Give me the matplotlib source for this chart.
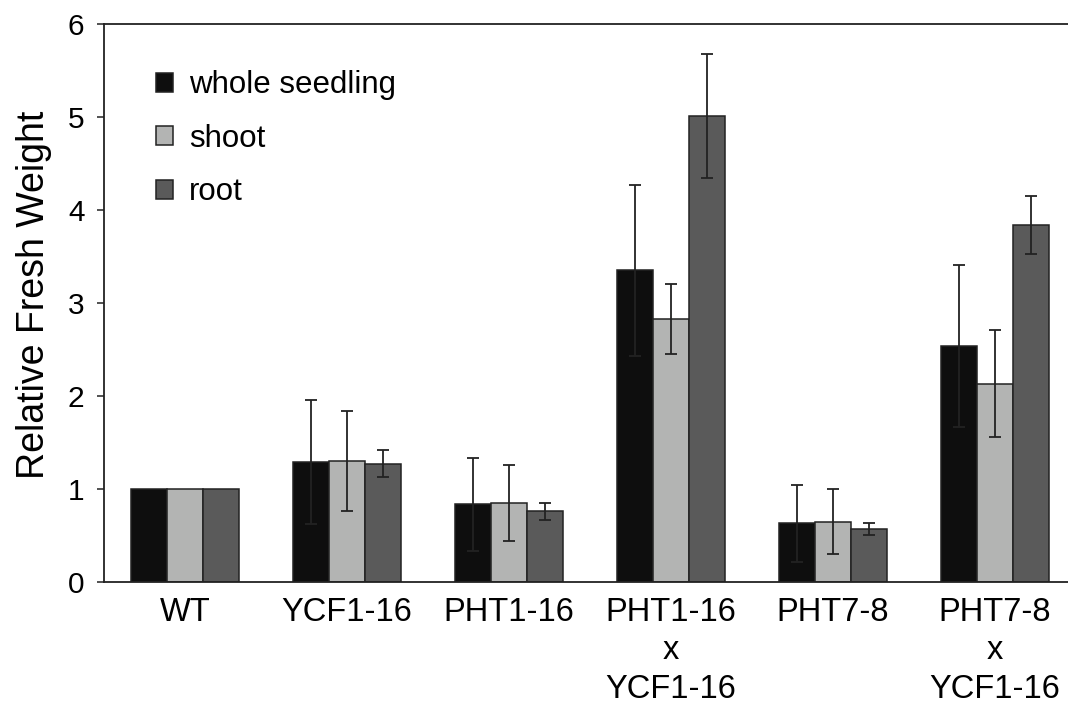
import numpy as np
import matplotlib
matplotlib.use('Agg')
import matplotlib.pyplot as plt

plt.rcParams['font.family'] = ['Liberation Sans', 'DejaVu Sans']

GROUPS = ['WT', 'YCF1-16', 'PHT1-16', 'PHT1-16\nx\nYCF1-16', 'PHT7-8',
          'PHT7-8\nx\nYCF1-16']
SERIES = ['whole seedling', 'shoot', 'root']

whole = [1.00, 1.29, 0.835, 3.35, 0.63, 2.54]
whole_err = [0.0, 0.67, 0.50, 0.92, 0.41, 0.87]
shoot = [1.00, 1.30, 0.85, 2.83, 0.65, 2.13]
shoot_err = [0.0, 0.54, 0.41, 0.375, 0.345, 0.575]
root = [1.00, 1.27, 0.76, 5.01, 0.57, 3.84]
root_err = [0.0, 0.145, 0.09, 0.67, 0.065, 0.315]

colors = ['#0e0e0e', '#b3b4b3', '#5a5a5a']
edge = '#222222'

fig = plt.figure(figsize=(10.68, 7.05), dpi=100)
ax = fig.add_axes([0.0974, 0.1745, 0.9026, 0.7915])

x = np.arange(len(GROUPS))
w = 0.222
handles = []
for i, (vals, errs) in enumerate([(whole, whole_err), (shoot, shoot_err),
                                  (root, root_err)]):
    pos = x + (i - 1) * w
    b = ax.bar(pos, vals, w, color=colors[i], edgecolor=edge, linewidth=1.1,
               label=SERIES[i], zorder=2)
    handles.append(b)
    errs = np.array(errs)
    mask = errs > 0
    ax.errorbar(pos[mask], np.array(vals)[mask], yerr=errs[mask], fmt='none',
                ecolor=edge, elinewidth=1.3, capsize=4.5, capthick=1.3,
                zorder=3)

ax.set_xlim(-0.5, 5.45)
ax.set_ylim(0, 6)
ax.set_yticks(range(7))
ax.set_xticks(x)
ax.set_xticklabels(GROUPS, fontsize=23.5, linespacing=1.3)
ax.tick_params(axis='x', length=0, pad=11)
ax.tick_params(axis='y', labelsize=21.5, length=5, width=1.1, color=edge,
               direction='out', pad=9)
ax.set_ylabel('Relative Fresh Weight', fontsize=27)
ax.yaxis.set_label_coords(-0.054, 0.514)

for s in ['left', 'bottom', 'top']:
    ax.spines[s].set_color(edge)
    ax.spines[s].set_linewidth(1.3)
ax.spines['right'].set_visible(False)

ax.legend(handles=handles, loc='upper left', frameon=False, fontsize=22.5,
          bbox_to_anchor=(0.146, 0.90), bbox_transform=fig.transFigure,
          borderpad=0, borderaxespad=0, handlelength=0.55,
          handleheight=0.55, handletextpad=0.5, labelspacing=0.75)

fig.savefig('out.png', dpi=100)
